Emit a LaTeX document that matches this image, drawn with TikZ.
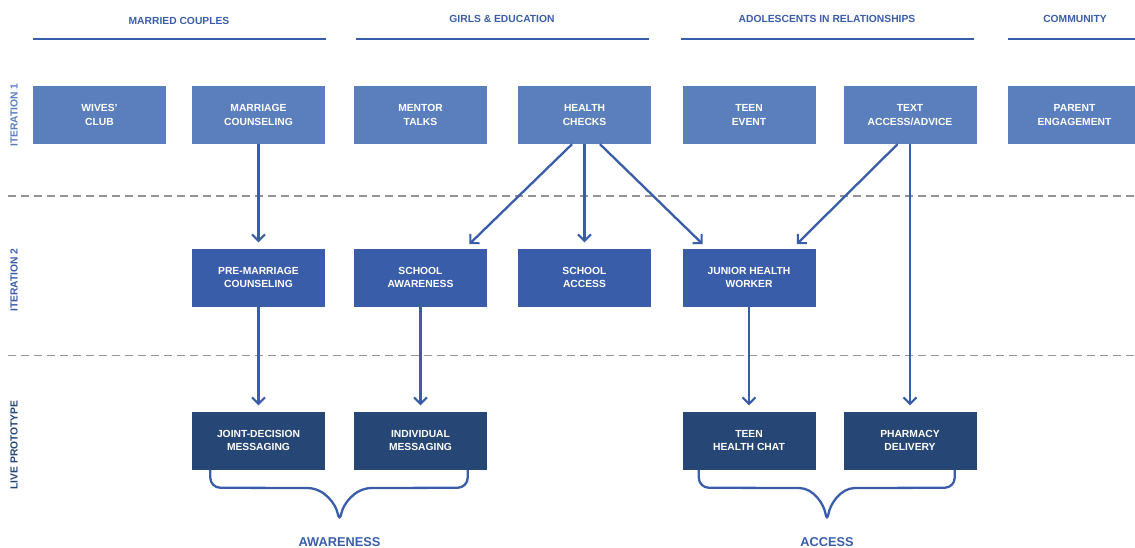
\documentclass[tikz,border=0pt]{standalone}
\usepackage{fontspec}
\setmainfont{Liberation Sans}
\usetikzlibrary{arrows.meta,calc}
\definecolor{rowA}{HTML}{5B7FBD}
\definecolor{rowB}{HTML}{3A5DAA}
\definecolor{rowC}{HTML}{264675}
\definecolor{dashgray}{HTML}{949494}
\tikzset{
  box/.style={minimum width=133pt, minimum height=58pt, inner sep=0pt,
    text=white, align=center, font=\fontsize{10.3}{13.3}\selectfont\bfseries},
  boxA/.style={box, fill=rowA},
  boxB/.style={box, fill=rowB},
  boxC/.style={box, fill=rowC},
  head/.style={text=rowB, font=\fontsize{10.3}{12}\selectfont\bfseries},
  side/.style={rotate=90, font=\fontsize{10.3}{12}\selectfont\bfseries},
  rule/.style={rowB, line width=2.3pt},
  sep/.style={dashgray, line width=1.4pt, dash pattern=on 8pt off 5pt},
  flow/.style={rowB, line width=2.3pt, -{Straight Barb[length=6.5pt,width=13pt,line width=2pt]}, shorten >=6pt},
  brace/.style={rowB, line width=2.3pt, rounded corners=10pt},
  goal/.style={text=rowB, font=\fontsize{12.8}{14}\selectfont\bfseries},
}
\begin{document}
\begin{tikzpicture}[x=1pt, y=-1pt]
\useasboundingbox (0,0) rectangle (1135,547);
\clip (0,0) rectangle (1135,547);

% column headers with their rules
\node[head] (h1) at (179,21) {MARRIED COUPLES};
\node[head] (h2) at (502,19) {GIRLS \& EDUCATION};
\node[head] (h3) at (827,19) {ADOLESCENTS IN RELATIONSHIPS};
\node[head] (h4) at (1075,19) {COMMUNITY};
\draw[rule] (33,38.7) -- (326,38.7);
\draw[rule] (356,38.7) -- (649,38.7);
\draw[rule] (681,38.7) -- (974,38.7);
\draw[rule] (1008,38.7) -- (1135,38.7);

% separators between stages
\draw[sep] (8,196) -- (1135,196);
\draw[sep] (8,355.5) -- (1135,355.5);

% stage labels
\node[side, text=rowA] (s1) at (14,115) {ITERATION 1};
\node[side, text=rowB] (s2) at (14,280) {ITERATION 2};
\node[side, text=rowC] (s3) at (14,445) {LIVE PROTOTYPE};

% iteration 1
\node[boxA] (wives) at (99.5,115) {WIVES'\\CLUB};
\node[boxA] (marr) at (258.5,115) {MARRIAGE\\COUNSELING};
\node[boxA] (mentor) at (420.5,115) {MENTOR\\TALKS};
\node[boxA] (health) at (584.5,115) {HEALTH\\CHECKS};
\node[boxA] (teen) at (749,115) {TEEN\\EVENT};
\node[boxA] (text) at (910,115) {TEXT\\ACCESS/ADVICE};
\node[boxA] (parent) at (1074.5,115) {PARENT\\ENGAGEMENT};

% iteration 2
\node[boxB] (premarr) at (258.5,277.5) {PRE-MARRIAGE\\COUNSELING};
\node[boxB] (school) at (420.5,277.5) {SCHOOL\\AWARENESS};
\node[boxB] (access) at (584.5,277.5) {SCHOOL\\ACCESS};
\node[boxB] (junior) at (749,277.5) {JUNIOR HEALTH\\WORKER};

% live prototype
\node[boxC] (joint) at (258.5,440.5) {JOINT-DECISION\\MESSAGING};
\node[boxC] (indiv) at (420.5,440.5) {INDIVIDUAL\\MESSAGING};
\node[boxC] (chat) at (749,440.5) {TEEN\\HEALTH CHAT};
\node[boxC] (pharm) at (910,440.5) {PHARMACY\\DELIVERY};

% progressions
\draw[flow] (marr.south) -- (premarr.north);
\draw[flow] (premarr.south) -- (joint.north);
\draw[flow] (school.south) -- (indiv.north);
\draw[flow] (junior.south) -- (chat.north);
\draw[flow] (text.south) -- (pharm.north);
\draw[flow] ($(health.south)+(-12.5,0)$) -- ($(school.north)+(44.5,0)$);
\draw[flow] (health.south) -- (access.north);
\draw[flow] ($(health.south)+(15.5,0)$) -- ($(junior.north)+(-42,0)$);
\draw[flow] ($(text.south)+(-12.5,0)$) -- ($(junior.north)+(43.5,0)$);

% braces grouping the live prototypes
\coordinate (awtip) at (339.5,523);
\draw[brace] ($(joint.south west)+(18.5,0)$) -- ++(0,18) -- (297,488)
  .. controls (325,488) and (336,505) .. (awtip)
  .. controls (343,505) and (354,488) .. (382,488) -- ($(indiv.south east)+(-19.5,18)$) -- ($(indiv.south east)+(-19.5,0)$);
\coordinate (actip) at (827,523);
\draw[brace] ($(chat.south west)+(16.5,0)$) -- ++(0,18) -- (789,488)
  .. controls (814,488) and (824,505) .. (actip)
  .. controls (830,505) and (840,488) .. (865,488) -- ($(pharm.south east)+(-22,18)$) -- ($(pharm.south east)+(-22,0)$);

\node[goal] (aw) at (339.5,542) {AWARENESS};
\node[goal] (ac) at (827,542) {ACCESS};
\end{tikzpicture}
\end{document}
